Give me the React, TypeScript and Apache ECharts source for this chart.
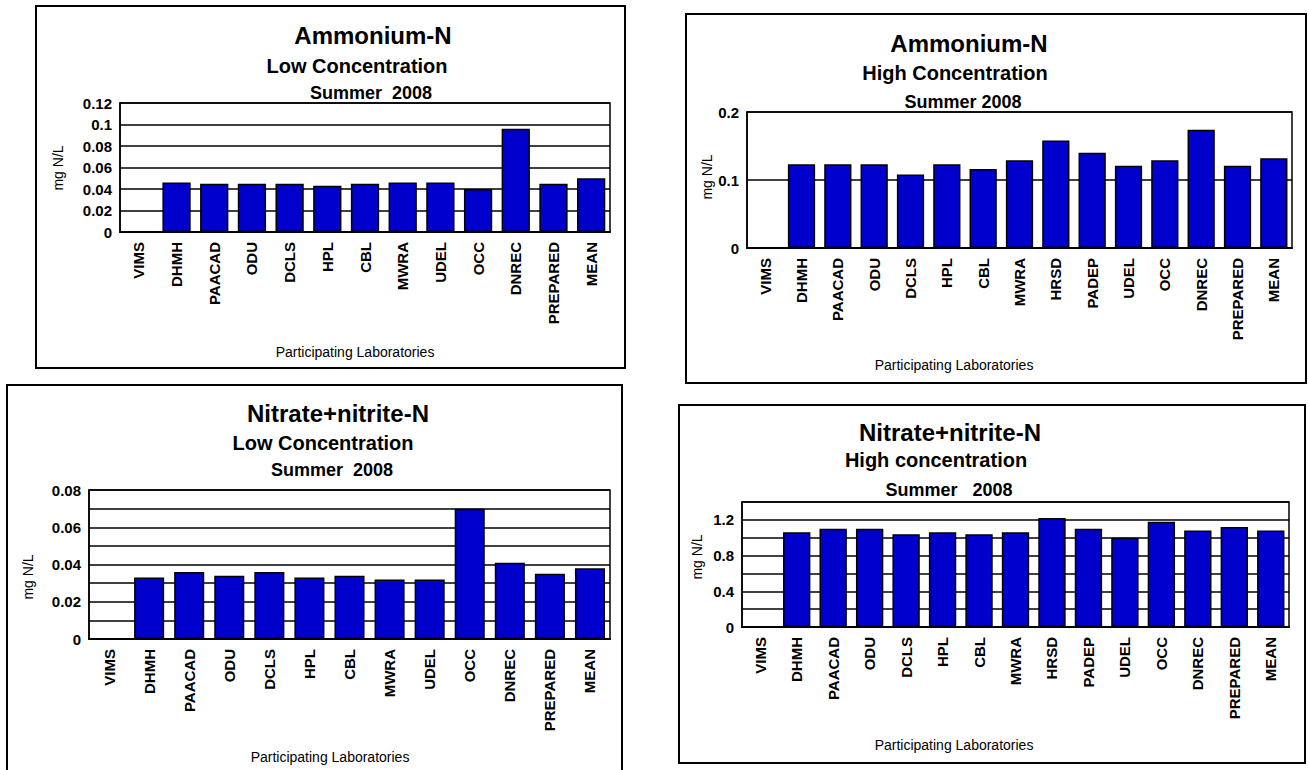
import React, { useEffect, useRef } from "react";
import * as echarts from "echarts";

const labsLow = ["VIMS", "DHMH", "PAACAD", "ODU", "DCLS", "HPL", "CBL", "MWRA", "UDEL", "OCC", "DNREC", "PREPARED", "MEAN"];
const labsHigh = ["VIMS", "DHMH", "PAACAD", "ODU", "DCLS", "HPL", "CBL", "MWRA", "HRSD", "PADEP", "UDEL", "OCC", "DNREC", "PREPARED", "MEAN"];

const ammoniumLow = [null, 0.046, 0.045, 0.045, 0.045, 0.043, 0.045, 0.046, 0.046, 0.040, 0.096, 0.045, 0.050];
const ammoniumHigh = [null, 0.123, 0.123, 0.123, 0.108, 0.123, 0.116, 0.129, 0.158, 0.140, 0.121, 0.129, 0.174, 0.121, 0.132];
const nitrateLow = [null, 0.033, 0.036, 0.034, 0.036, 0.033, 0.034, 0.032, 0.032, 0.070, 0.041, 0.035, 0.038];
const nitrateHigh = [null, 1.06, 1.10, 1.10, 1.04, 1.06, 1.04, 1.06, 1.22, 1.10, 1.00, 1.18, 1.08, 1.12, 1.08];

const FONT = "'Liberation Sans', Arial, Helvetica, sans-serif";

type Panel = {
  box: [number, number, number, number];
  grid: { left: number; top: number; width: number; height: number };
  titles: [string, number, number, number][];
  yName: [number, number];
  xName: [number, number];
  cats: string[];
  data: (number | null)[];
  max: number;
  interval: number;
  labelFn: (v: number) => string;
};

const panels: Panel[] = [
  {
    box: [36, 6, 589, 362],
    grid: { left: 120, top: 103, width: 490, height: 129 },
    titles: [
      ["Ammonium-N", 373, 35, 24],
      ["Low Concentration", 357, 66, 20],
      ["Summer  2008", 371, 93, 18],
    ],
    yName: [58, 168],
    xName: [355, 352],
    cats: labsLow,
    data: ammoniumLow,
    max: 0.12,
    interval: 0.02,
    labelFn: (v) => (v === 0 ? "0" : String(Math.round(v * 100) / 100)),
  },
  {
    box: [686, 14, 620, 369],
    grid: { left: 747, top: 112, width: 545, height: 136 },
    titles: [
      ["Ammonium-N", 969, 43, 24],
      ["High Concentration", 955, 73, 20],
      ["Summer 2008", 963, 102, 18],
    ],
    yName: [707, 177],
    xName: [954, 365],
    cats: labsHigh,
    data: ammoniumHigh,
    max: 0.2,
    interval: 0.1,
    labelFn: (v) => (v === 0 ? "0" : String(Math.round(v * 10) / 10)),
  },
  {
    box: [7, 385, 615, 400],
    grid: { left: 89, top: 490, width: 521, height: 149 },
    titles: [
      ["Nitrate+nitrite-N", 338, 413, 24],
      ["Low Concentration", 323, 443, 20],
      ["Summer  2008", 332, 470, 18],
    ],
    yName: [28, 577],
    xName: [330, 757],
    cats: labsLow,
    data: nitrateLow,
    max: 0.08,
    interval: 0.01,
    labelFn: (v) => {
      const k = Math.round(v * 100);
      if (k === 0) return "0";
      return k % 2 === 0 ? String(k / 100) : "";
    },
  },
  {
    box: [679, 405, 626, 358],
    grid: { left: 742, top: 502, width: 547, height: 125 },
    titles: [
      ["Nitrate+nitrite-N", 950, 432, 24],
      ["High concentration", 936, 460, 20],
      ["Summer   2008", 949, 490, 18],
    ],
    yName: [697, 557],
    xName: [954, 745],
    cats: labsHigh,
    data: nitrateHigh,
    max: 1.4,
    interval: 0.2,
    labelFn: (v) => {
      const k = Math.round(v * 10);
      if (k === 0) return "0";
      return k % 4 === 0 ? String(k / 10) : "";
    },
  },
];

export default function App() {
  const ref = useRef<HTMLDivElement>(null);
  useEffect(() => {
    if (!ref.current) return;
    const chart = echarts.init(ref.current, undefined, { renderer: "svg" });
    const graphic: any[] = [];
    panels.forEach((p) => {
      graphic.push({
        type: "rect",
        shape: { x: p.box[0], y: p.box[1], width: p.box[2], height: p.box[3] },
        style: { fill: "#fff", stroke: "#000", lineWidth: 2 },
        z: -10,
      });
      p.titles.forEach(([t, x, y, s]) => {
        graphic.push({
          type: "text",
          x,
          y,
          style: {
            text: t,
            font: `bold ${s}px ${FONT}`,
            fill: "#000",
            textAlign: "center",
            textVerticalAlign: "middle",
          },
        });
      });
      graphic.push({
        type: "text",
        x: p.yName[0],
        y: p.yName[1],
        rotation: Math.PI / 2,
        style: {
          text: "mg N/L",
          font: `14px ${FONT}`,
          fill: "#000",
          textAlign: "center",
          textVerticalAlign: "middle",
        },
      });
      graphic.push({
        type: "text",
        x: p.xName[0],
        y: p.xName[1],
        style: {
          text: "Participating Laboratories",
          font: `14px ${FONT}`,
          fill: "#000",
          textAlign: "center",
          textVerticalAlign: "middle",
        },
      });
    });

    const option: any = {
      animation: false,
      backgroundColor: "#fff",
      textStyle: { fontFamily: FONT },
      grid: panels.map((p) => ({
        ...p.grid,
        show: true,
        borderColor: "#000",
        borderWidth: 1.5,
        backgroundColor: "transparent",
        containLabel: false,
      })),
      xAxis: panels.map((p, i) => ({
        type: "category",
        gridIndex: i,
        data: p.cats,
        axisLine: { show: true, lineStyle: { color: "#000", width: 2 } },
        axisTick: { show: false },
        axisLabel: {
          rotate: 90,
          interval: 0,
          margin: 10,
          color: "#000",
          fontWeight: "bold",
          fontSize: 15,
          fontFamily: FONT,
        },
      })),
      yAxis: panels.map((p, i) => ({
        type: "value",
        gridIndex: i,
        min: 0,
        max: p.max,
        interval: p.interval,
        axisLine: { show: true, lineStyle: { color: "#000", width: 1.5 } },
        axisTick: { show: false },
        splitLine: { show: true, lineStyle: { color: "#000", width: 1.5 } },
        axisLabel: {
          color: "#000",
          fontWeight: "bold",
          fontSize: 15,
          fontFamily: FONT,
          margin: 8,
          formatter: p.labelFn,
        },
      })),
      series: panels.map((p, i) => ({
        type: "bar",
        xAxisIndex: i,
        yAxisIndex: i,
        data: p.data.map((v) => (v === null ? "-" : v)),
        barCategoryGap: "25%",
        itemStyle: { color: "#0000CC", borderColor: "#000", borderWidth: 1.5 },
      })),
      graphic,
    };
    chart.setOption(option);
    return () => chart.dispose();
  }, []);
  return (
    <div
      ref={ref}
      style={{ position: "absolute", left: 0, top: 0, width: 1309, height: 770, background: "#fff" }}
    />
  );
}
